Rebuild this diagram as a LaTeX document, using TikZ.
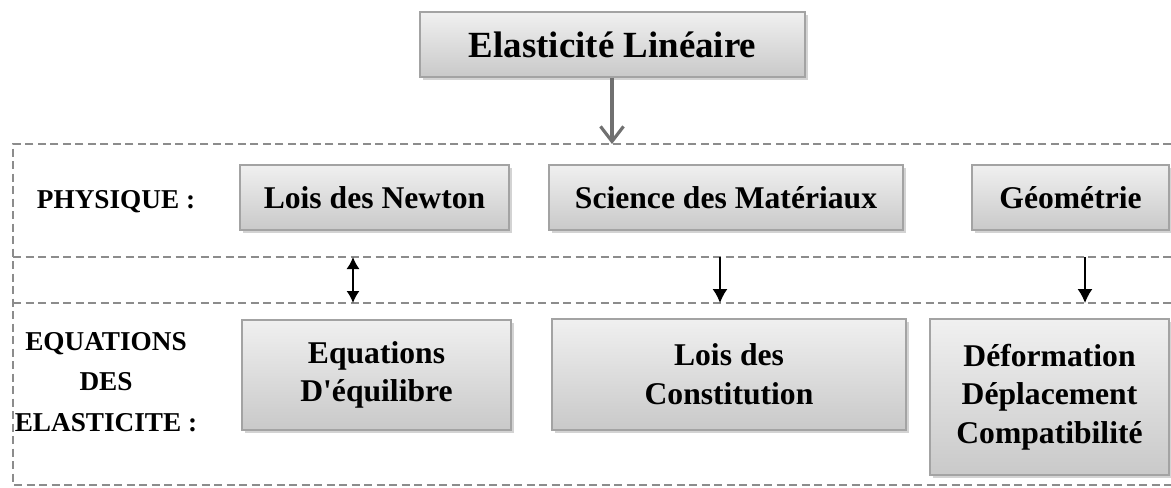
\documentclass[tikz,border=0pt]{standalone}
\usepackage{fontspec}
\setmainfont{Liberation Serif}
\usepackage{tikz}
\usetikzlibrary{arrows.meta, shadows}
\usepackage{xcolor}

\definecolor{boxtop}{HTML}{F0F0F0}
\definecolor{boxbot}{HTML}{C9C9C9}
\definecolor{boxline}{HTML}{A3A3A3}
\definecolor{frameline}{HTML}{8C8C8C}

\begin{document}
\begin{tikzpicture}[
    x=0.2mm, y=-0.2mm,
    topicbox/.style={rectangle, draw=boxline, line width=0.6pt, top color=boxtop, bottom color=boxbot, align=center, inner sep=0pt, font=\bfseries\fontsize{18}{22}\selectfont, drop shadow={shadow xshift=0.5mm, shadow yshift=-0.6mm, opacity=0.35}},
    rowlabel/.style={align=center, inner sep=0pt, font=\bfseries\fontsize{15.5}{23}\selectfont},
    frame/.style={draw=frameline, line width=0.9pt, dash pattern=on 1.6mm off 0.9mm},
    link/.style={-{Latex[length=2.8mm, width=3mm]}, line width=0.9pt},
    linkboth/.style={{Latex[length=2.4mm, width=2.6mm]}-{Latex[length=2.4mm, width=2.6mm]}, line width=0.9pt}
]
    \useasboundingbox (0,0) rectangle (1171,487);

    % Dashed frame, open on the right
    \draw[frame] (1171,144) -- (13,144) -- (13,485) -- (1171,485);
    \draw[frame] (13,257) -- (1171,257);
    \draw[frame] (13,303) -- (1171,303);

    % Title
    \node[topicbox, minimum width=77mm, minimum height=13mm, font=\bfseries\fontsize{21}{25}\selectfont] (title) at (612.5,44.5) {Elasticité Linéaire};

    % Physics row
    \node[rowlabel] (physique) at (116,202) {PHYSIQUE :};
    \node[topicbox, minimum width=53.8mm, minimum height=13mm] (newton) at (374.5,197.5) {Lois des Newton};
    \node[topicbox, minimum width=70.8mm, minimum height=13mm] (science) at (726,197.5) {Science des Matériaux};
    \node[topicbox, minimum width=39.4mm, minimum height=13mm] (geom) at (1070.5,197.5) {Géométrie};

    % Equations row
    \node[rowlabel] (equations) at (106,382) {EQUATIONS\\DES\\ELASTICITE :};
    \node[topicbox, minimum width=53.8mm, minimum height=22mm] (equil) at (376.5,375) {Equations\\D\textquotesingle équilibre};
    \node[topicbox, minimum width=70.8mm, minimum height=22.2mm] (constit) at (729,374.5) {Lois des\\Constitution};
    \node[topicbox, minimum width=47.8mm, minimum height=31.2mm] (deform) at (1049.5,397) {Déformation\\Déplacement\\Compatibilité};

    % Arrow ends on the frame lines
    \coordinate (entry) at (612,144);
    \coordinate (n1) at (353,257);
    \coordinate (n2) at (353,303);
    \coordinate (s1) at (720,257);
    \coordinate (s2) at (720,303);
    \coordinate (g1) at (1085,257);
    \coordinate (g2) at (1085,303);

    % Arrows
    \draw[-{Straight Barb[length=3mm, width=4.6mm]}, draw=frameline!80!black, line width=1.8pt] (title.south -| entry) -- (entry);
    \draw[linkboth] (n1) -- (n2);
    \draw[link] (s1) -- (s2);
    \draw[link] (g1) -- (g2);
\end{tikzpicture}
\end{document}
